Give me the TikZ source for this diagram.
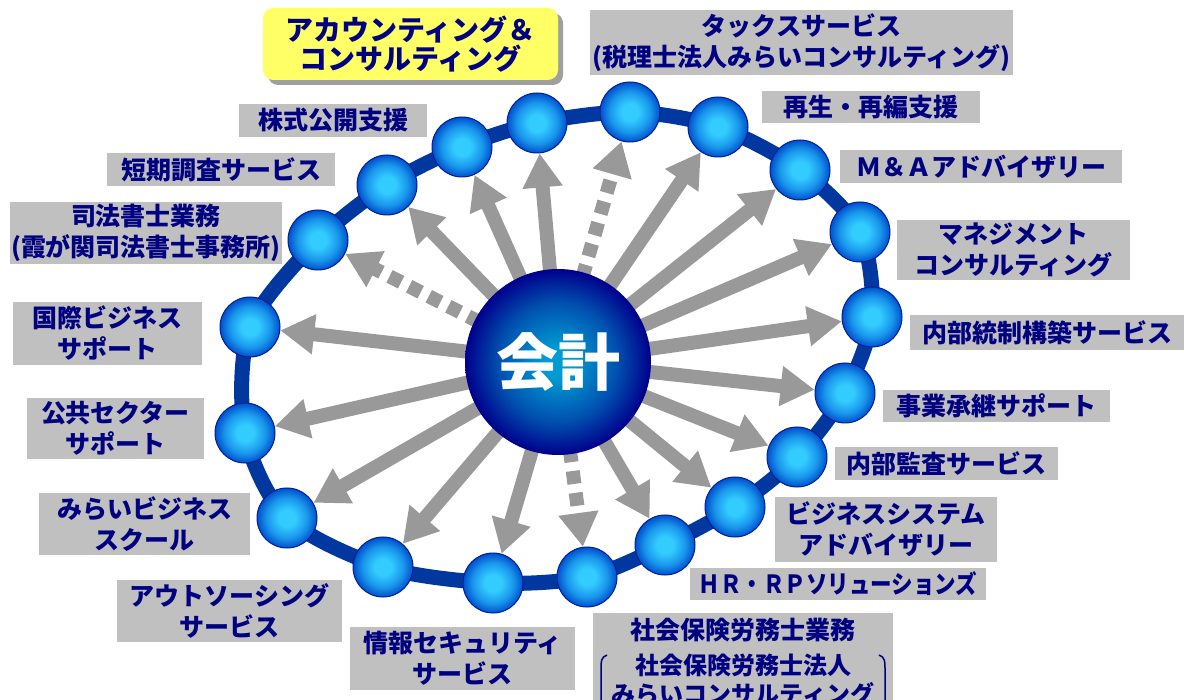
\documentclass[tikz,border=0pt]{standalone}
\usepackage{fontspec}
\usepackage{graphicx}
\newfontfamily\jp{Noto Sans CJK JP}
\usetikzlibrary{arrows.meta,shadows}
\definecolor{navy}{RGB}{0,0,128}
\definecolor{boxgray}{RGB}{192,192,192}
\definecolor{arrowgray}{RGB}{153,153,153}
\definecolor{ringblue}{RGB}{0,56,160}
\definecolor{ballin}{RGB}{51,204,255}
\definecolor{ballmid}{RGB}{25,150,235}
\definecolor{ballout}{RGB}{0,80,205}
\definecolor{balledge}{RGB}{0,30,150}
\definecolor{corein}{RGB}{0,155,210}
\definecolor{coremid}{RGB}{0,80,175}
\definecolor{coreout}{RGB}{0,0,140}
\definecolor{accyellow}{RGB}{255,255,102}
\pgfdeclareradialshading{ballshade}{\pgfpoint{0bp}{0bp}}{color(0bp)=(ballin); color(7bp)=(ballin); color(17bp)=(ballmid); color(25bp)=(ballout); color(50bp)=(ballout)}
\pgfdeclareradialshading{coreshade}{\pgfpoint{0bp}{0bp}}{color(0bp)=(corein); color(4bp)=(corein); color(16bp)=(coremid); color(25bp)=(coreout); color(50bp)=(coreout)}
\pgfdeclarelayer{ringlayer}
\pgfdeclarelayer{arrowlayer}
\pgfsetlayers{ringlayer,arrowlayer,main}
\begin{document}
\begin{tikzpicture}[x=1pt,y=-1pt,
  ball/.style={circle, minimum size=60pt, inner sep=0pt, shading=ballshade,
    draw=balledge, line width=1pt},
  core/.style={circle, minimum size=186pt, inner sep=0pt, shading=coreshade,
    text=white, font=\jp\bfseries\fontsize{62}{62}\selectfont},
  lblbase/.style={text=navy, inner sep=0pt, align=center,
    font=\jp\bfseries\fontsize{25}{31}\selectfont},
  lbl/.style={lblbase, fill=boxgray},
  txt/.style={lblbase},
  acclbl/.style={lblbase, fill=accyellow, rounded corners=10pt,
    font=\jp\bfseries\fontsize{28}{29}\selectfont,
    drop shadow={shadow xshift=5pt, shadow yshift=-5pt, fill=gray!75, opacity=1}},
  ray/.style={draw=arrowgray, line width=14pt, -{Triangle[width=38pt,length=34pt]}},
  dray/.style={ray, dash pattern=on 13pt off 9pt},
  ring/.style={draw=ringblue, line width=15pt},
  brk/.style={draw=navy, line width=1.5pt},
]
\useasboundingbox (0,0) rectangle (1184,700);

% balls
\node[ball] (b1) at (630,112) {};
\node[ball] (b2) at (718,127) {};
\node[ball] (b3) at (800,170) {};
\node[ball] (b4) at (860,232) {};
\node[ball] (b5) at (872,317) {};
\node[ball] (b6) at (845,393) {};
\node[ball] (b7) at (797,457) {};
\node[ball] (b8) at (735,507) {};
\node[ball] (b9) at (665,545) {};
\node[ball] (b10) at (587,577) {};
\node[ball] (b11) at (493,583) {};
\node[ball] (b12) at (383,567) {};
\node[ball] (b13) at (287,518) {};
\node[ball] (b14) at (245,433) {};
\node[ball] (b15) at (250,327) {};
\node[ball] (b16) at (318,240) {};
\node[ball] (b17) at (387,185) {};
\node[ball] (b18) at (462,147) {};
\node[ball] (b19) at (537,123) {};

% core
\node[core] (C) at (558,362) {会計};

% ring
\begin{pgfonlayer}{ringlayer}
\draw[ring] plot[smooth cycle] coordinates {(b1.center) (b2.center) (b3.center) (b4.center) (b5.center) (b6.center) (b7.center) (b8.center) (b9.center) (b10.center) (b11.center) (b12.center) (b13.center) (b14.center) (b15.center) (b16.center) (b17.center) (b18.center) (b19.center)};
\end{pgfonlayer}

% arrows
\begin{pgfonlayer}{arrowlayer}
\draw[dray] (C.center) -- (b1);
\draw[ray] (C.center) -- (b2);
\draw[ray] (C.center) -- (b3);
\draw[ray] (C.center) -- (b4);
\draw[ray] (C.center) -- (b5);
\draw[ray] (C.center) -- (b6);
\draw[ray] (C.center) -- (b7);
\draw[ray] (C.center) -- (b8);
\draw[ray] (C.center) -- (b9);
\draw[dray] (C.center) -- (b10);
\draw[ray] (C.center) -- (b11);
\draw[ray] (C.center) -- (b12);
\draw[ray] (C.center) -- (b13);
\draw[ray] (C.center) -- (b14);
\draw[ray] (C.center) -- (b15);
\draw[dray] (C.center) -- (b16);
\draw[ray] (C.center) -- (b17);
\draw[ray] (C.center) -- (b18);
\draw[ray] (C.center) -- (b19);
\end{pgfonlayer}

% labels
\node[acclbl, minimum width=295pt, minimum height=72pt] (acc) at (410.5,44) {アカウンティング＆\\コンサルティング};
\node[lbl, minimum width=423pt, minimum height=65pt] (tax) at (801.5,42.5) {タックスサービス\\(税理士法人みらいコンサルティング)};
\node[lbl, minimum width=218pt, minimum height=32pt] (saisei) at (871,107) {再生・再編支援};
\node[lbl, minimum width=282pt, minimum height=33pt] (ma) at (981,166.5) {Ｍ＆Ａアドバイザリー};
\node[lbl, minimum width=233pt, minimum height=60pt] (mgmt) at (1013.5,250) {マネジメント\\コンサルティング};
\node[lbl, minimum width=274pt, minimum height=35pt] (naibu) at (1047,332.5) {内部統制構築サービス};
\node[lbl, minimum width=227pt, minimum height=32pt] (jigyo) at (996.5,406) {事業承継サポート};
\node[lbl, minimum width=223pt, minimum height=33pt] (kansa) at (946.5,463.5) {内部監査サービス};
\node[lbl, minimum width=222pt, minimum height=65pt] (bizsys) at (886,529.5) {ビジネスシステム\\アドバイザリー};
\node[lbl, minimum width=296pt, minimum height=32pt] (hr) at (838,584) {\scalebox{0.86}[1]{ＨＲ・ＲＰソリューションズ}};
\node[lbl, minimum width=300pt, minimum height=107pt] (sharo) at (743,666.5) {};
\node[txt] (sharo1) at (743,630) {社会保険労務士業務};
\node[txt, font=\jp\bfseries\fontsize{24}{24}\selectfont] (sharo2) at (743,665) {社会保険労務士法人};
\node[txt, font=\jp\bfseries\fontsize{24}{24}\selectfont] (sharo3) at (743,694) {みらいコンサルティング};
\draw[brk] (607,655) .. controls (601,657) and (601,662) .. (601,668) -- (601,720);
\draw[brk] (879,655) .. controls (885,657) and (885,662) .. (885,668) -- (885,720);
\node[lbl, minimum width=225pt, minimum height=63pt] (joho) at (462.5,658.5) {情報セキュリティ\\サービス};
\node[lbl, minimum width=225pt, minimum height=62pt] (out) at (229.5,611) {アウトソーシング\\サービス};
\node[lbl, minimum width=211pt, minimum height=62pt] (mirai) at (144.5,524) {みらいビジネス\\スクール};
\node[lbl, minimum width=177pt, minimum height=61pt] (kokyo) at (115.5,428.5) {公共セクター\\サポート};
\node[lbl, minimum width=189pt, minimum height=63pt] (kokusai) at (107.5,333.5) {国際ビジネス\\サポート};
\node[lbl, minimum width=272pt, minimum height=62pt] (shiho) at (146,233) {司法書士業務\\(霞が関司法書士事務所)};
\node[lbl, minimum width=228pt, minimum height=33pt] (tanki) at (221,169.5) {短期調査サービス};
\node[lbl, minimum width=188pt, minimum height=33pt] (kabu) at (333,120.5) {株式公開支援};
\end{tikzpicture}
\end{document}
